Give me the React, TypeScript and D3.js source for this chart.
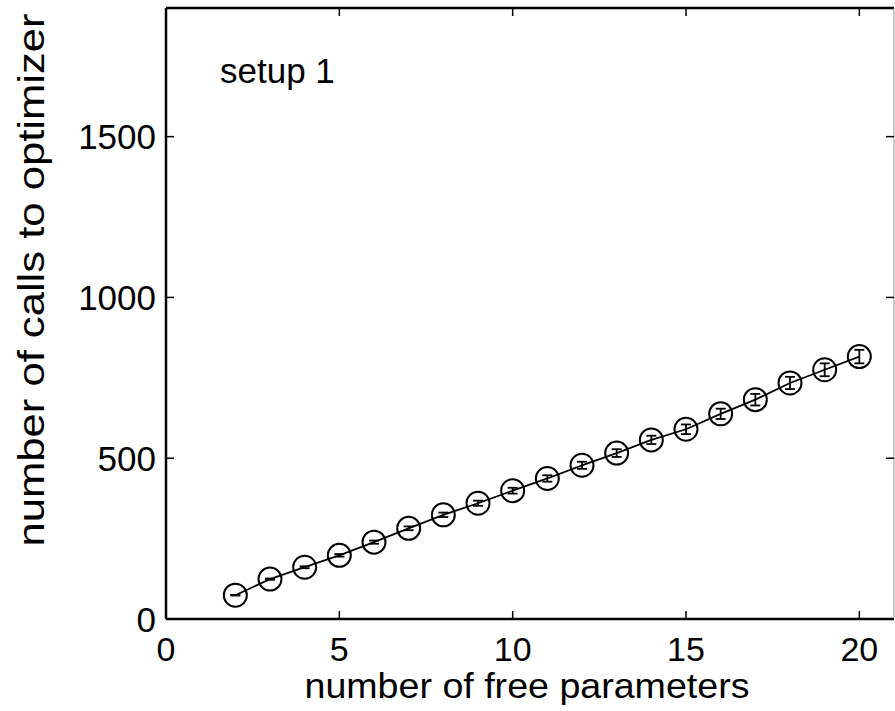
import React from "react";
import * as d3 from "d3";

const params = [2, 3, 4, 5, 6, 7, 8, 9, 10, 11, 12, 13, 14, 15, 16, 17, 18, 19, 20];
const calls = [74, 124, 161, 198, 239, 282, 324, 360, 399, 437, 478, 516, 557, 590, 638, 682, 734, 775, 816];
const errs = [1, 2, 3, 4, 5, 6, 7, 8, 9, 10, 11, 12, 13, 15, 16, 18, 19, 20, 21];
const xTicks = [0, 5, 10, 15, 20];
const yTicks = [0, 500, 1000, 1500];

const W = 895;
const H = 711;
const L = 166, R = 894, T = 8, B = 619;
const FONT = "'Liberation Sans', Arial, Helvetica, sans-serif";

export default function App() {
  const x = d3.scaleLinear().domain([0, 21]).range([L, R]);
  const y = d3.scaleLinear().domain([0, 1900]).range([B, T]);
  const data = params.map((p, i) => ({ p, v: calls[i], e: errs[i] }));
  const line = d3
    .line<{ p: number; v: number }>()
    .x((d) => x(d.p))
    .y((d) => y(d.v));
  const tk = 8;
  const cap = 5;
  return (
    <svg
      width={W}
      height={H}
      style={{ position: "absolute", left: 0, top: 0, background: "#fff" }}
      fontFamily={FONT}
    >
      <rect x={0} y={0} width={W} height={H} fill="#fff" />
      {/* frame */}
      <line x1={L} y1={B} x2={R} y2={B} stroke="#000" strokeWidth={2.5} />
      <line x1={L} y1={T} x2={L} y2={B} stroke="#000" strokeWidth={2.5} />
      <line x1={L} y1={T} x2={R} y2={T} stroke="#000" strokeWidth={2.5} />
      <line x1={R} y1={T} x2={R} y2={B} stroke="#999" strokeWidth={1} />
      {/* x ticks */}
      {xTicks.map((t) => (
        <g key={"x" + t}>
          <line x1={x(t)} x2={x(t)} y1={B} y2={B - tk} stroke="#000" strokeWidth={1.5} />
          <line x1={x(t)} x2={x(t)} y1={T} y2={T + tk} stroke="#000" strokeWidth={1.5} />
          <text x={x(t)} y={661} textAnchor="middle" fontSize={34} fill="#000">
            {t}
          </text>
        </g>
      ))}
      {/* y ticks */}
      {yTicks.map((t) => (
        <g key={"y" + t}>
          <line x1={L} x2={L + tk} y1={y(t)} y2={y(t)} stroke="#000" strokeWidth={1.5} />
          <line x1={R} x2={R - tk} y1={y(t)} y2={y(t)} stroke="#000" strokeWidth={1.5} />
          <text x={156} y={y(t)} dy="0.36em" textAnchor="end" fontSize={35} fill="#000">
            {t}
          </text>
        </g>
      ))}
      {/* line */}
      <path d={line(data) || ""} fill="none" stroke="#000" strokeWidth={1.8} />
      {/* error bars and markers */}
      {data.map((d) => {
        const cx = x(d.p);
        const cy = y(d.v);
        const y1 = y(d.v - d.e);
        const y2 = y(d.v + d.e);
        return (
          <g key={"p" + d.p}>
            <line x1={cx} x2={cx} y1={y1} y2={y2} stroke="#000" strokeWidth={1.8} />
            <line x1={cx - cap} x2={cx + cap} y1={y1} y2={y1} stroke="#000" strokeWidth={1.8} />
            <line x1={cx - cap} x2={cx + cap} y1={y2} y2={y2} stroke="#000" strokeWidth={1.8} />
            <circle cx={cx} cy={cy} r={11.5} fill="none" stroke="#000" strokeWidth={2} />
          </g>
        );
      })}
      <text x={220} y={83} fontSize={35} fill="#000">
        setup 1
      </text>
      <text
        x={527}
        y={698}
        textAnchor="middle"
        fontSize={35}
        fill="#000"
        textLength={445}
        lengthAdjust="spacingAndGlyphs"
      >
        number of free parameters
      </text>
      <text
        transform={`translate(44, ${280}) rotate(-90)`}
        textAnchor="middle"
        fontSize={36}
        fill="#000"
        textLength={533}
        lengthAdjust="spacingAndGlyphs"
      >
        number of calls to optimizer
      </text>
    </svg>
  );
}
